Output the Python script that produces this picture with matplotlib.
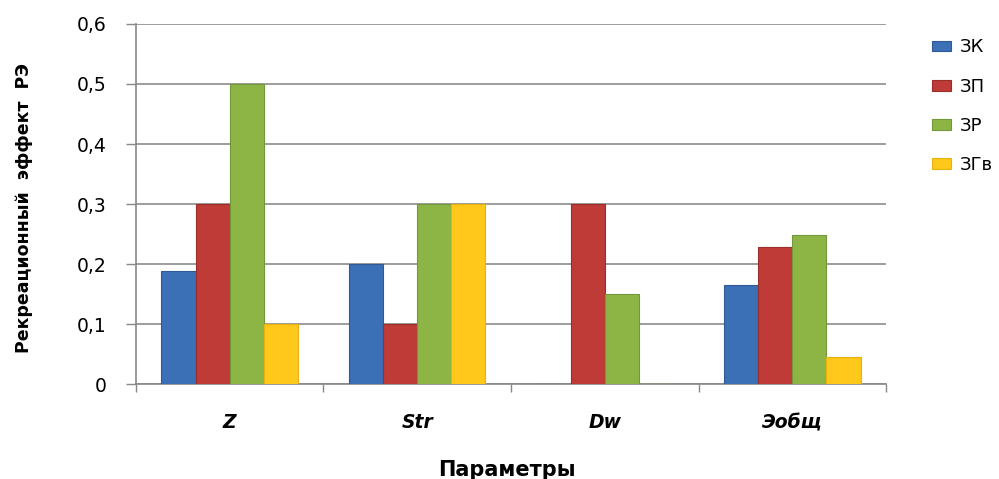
import matplotlib
matplotlib.use("Agg")
import matplotlib.pyplot as plt
import numpy as np

plt.rcParams['font.family'] = ['DejaVu Sans']

categories = ["Z", "Str", "Dw", "Эобщ"]
series_names = ["ЗК", "ЗП", "ЗР", "ЗГв"]
zk = [0.188, 0.2, 0.0, 0.165]
zp = [0.3, 0.1, 0.3, 0.228]
zr = [0.5, 0.3, 0.15, 0.249]
zgv = [0.1, 0.3, 0.0, 0.045]
y_ticks = [0, 0.1, 0.2, 0.3, 0.4, 0.5, 0.6]
y_tick_labels = ["0", "0,1", "0,2", "0,3", "0,4", "0,5", "0,6"]

colors = ["#3B6FB6", "#BE3B37", "#8DB546", "#FFC81A"]
edges = ["#2E5A96", "#9A2E2B", "#729638", "#E8B010"]

fig = plt.figure(figsize=(9.99, 4.79), dpi=100)
ax = fig.add_axes([0.136, 0.198, 0.751, 0.752])

x = np.arange(len(categories))
w = 1 / 5.5
for i, (vals, name) in enumerate(zip([zk, zp, zr, zgv], series_names)):
    ax.bar(x + (i - 1.5) * w, vals, width=w, color=colors[i],
           edgecolor=edges[i], linewidth=0.8, label=name, zorder=3)

ax.set_xlim(-0.5, len(categories) - 0.5)
ax.set_ylim(0, 0.6)
ax.set_yticks(y_ticks)
ax.set_yticklabels(y_tick_labels, fontsize=13.5)
ax.yaxis.grid(True, color="#8C8C8C", linewidth=1.2, zorder=0)

ax.set_xticks(x)
ax.set_xticklabels(categories, fontsize=13.5, fontweight="bold", fontstyle="italic")
ax.tick_params(axis="x", length=0, pad=21)
ax.set_xticks(np.arange(len(categories) + 1) - 0.5, minor=True)
ax.tick_params(axis="x", which="minor", length=6, color="#888888", width=1)
ax.tick_params(axis="y", length=7, color="#888888", width=1, pad=14)

for s in ["top", "right"]:
    ax.spines[s].set_visible(False)
for s in ["left", "bottom"]:
    ax.spines[s].set_color("#888888")
    ax.spines[s].set_linewidth(1.2)

ax.set_ylabel("Рекреационный  эффект  РЭ", fontsize=12.5, fontweight="bold")
ax.yaxis.set_label_coords(-0.137, 0.49)
ax.set_xlabel("Параметры", fontsize=15, fontweight="bold")
ax.xaxis.set_label_coords(0.495, -0.21)

ax.legend(loc="upper left", bbox_to_anchor=(1.04, 1.005), frameon=False,
          fontsize=13, handlelength=1.05, handleheight=0.55, labelspacing=1.18,
          handletextpad=0.45)

fig.savefig("out.png", dpi=100)
